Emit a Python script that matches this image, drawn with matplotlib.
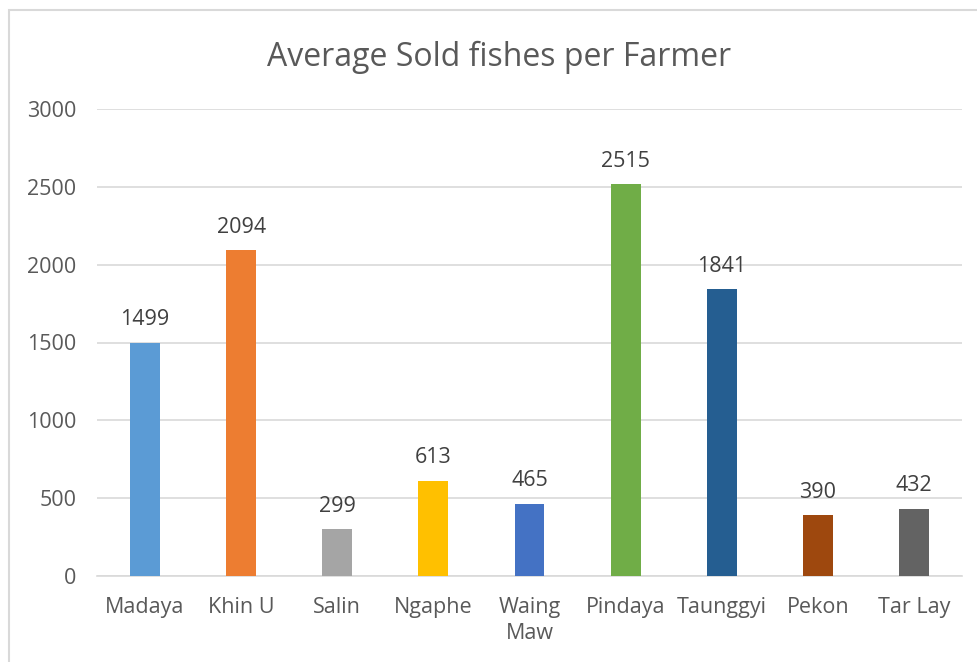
import numpy as np
import matplotlib.pyplot as plt
from matplotlib.patches import Rectangle

# 各地区平均每户售鱼数量
towns = ['Madaya', 'Khin U', 'Salin', 'Ngaphe', 'Waing\nMaw', 'Pindaya', 'Taunggyi', 'Pekon', 'Tar Lay']
sold = [1499, 2094, 299, 613, 465, 2515, 1841, 390, 432]
colors = ['#5B9BD5', '#ED7D31', '#A5A5A5', '#FFC000', '#4472C4', '#70AD47', '#255E91', '#9E480E', '#636363']

plt.rcParams['font.family'] = ['Open Sans', 'DejaVu Sans']

fig = plt.figure(figsize=(9.77, 6.62), dpi=100)
# 图表外框
fig.patches.append(Rectangle((9 / 977, -0.1), 1.2, 1 - 10 / 662 + 0.1, transform=fig.transFigure,
                             fill=False, edgecolor='#D9D9D9', linewidth=1.5))

ax = fig.add_axes([97 / 977, 1 - 576 / 662, (962 - 97) / 977, (576 - 109) / 662])
x = np.arange(len(towns))
ax.bar(x, sold, width=0.31, color=colors, zorder=3)
for xi, v in zip(x, sold):
    ax.text(xi, v + 80, str(v), ha='center', va='bottom', fontsize=15.5, color='#404040')

ax.set_xlim(-0.5, len(towns) - 0.5)
ax.set_ylim(0, 3000)
ax.set_yticks(range(0, 3001, 500))
ax.set_xticks(x)
ax.set_xticklabels(towns, linespacing=1.3)
ax.grid(axis='y', color='#D9D9D9', linewidth=1.2, zorder=0)
for s in ['top', 'right', 'left']:
    ax.spines[s].set_visible(False)
ax.spines['bottom'].set_color('#D9D9D9')
ax.spines['bottom'].set_linewidth(1.2)
ax.tick_params(length=0, labelsize=15.5, colors='#595959')
ax.tick_params(axis='y', pad=15)
ax.tick_params(axis='x', pad=15)

fig.text(0.511, 1 - 57 / 662, 'Average Sold fishes per Farmer', ha='center', va='center',
         fontsize=23, color='#595959')

fig.savefig('out.png', dpi=100)
